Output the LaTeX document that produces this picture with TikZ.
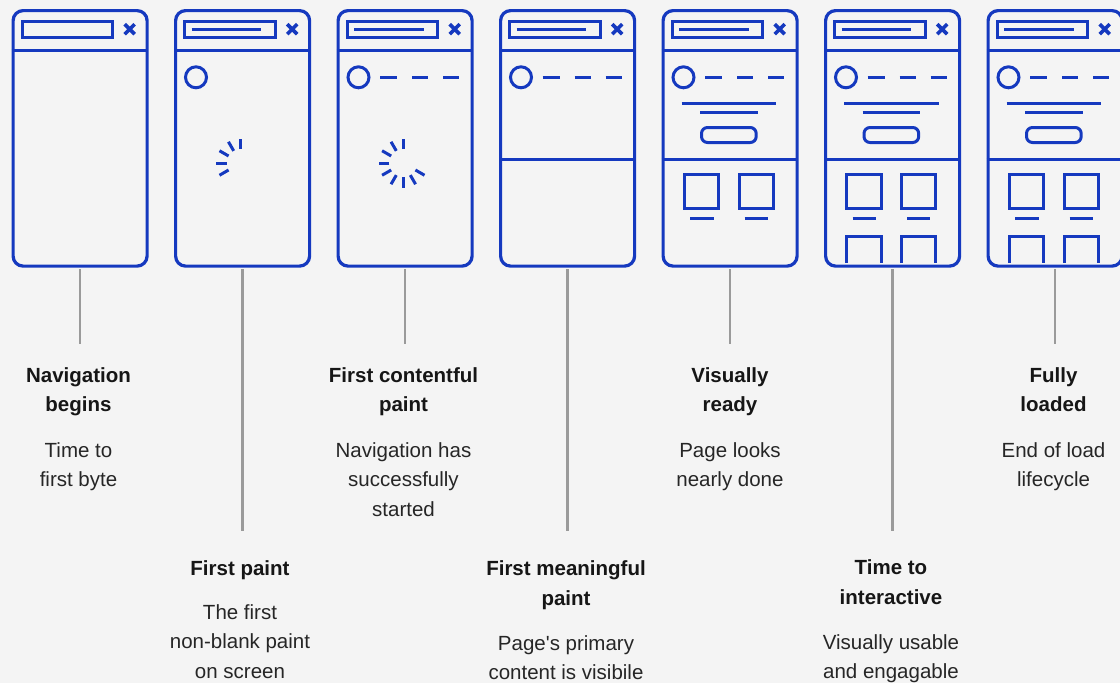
\documentclass[tikz,border=0pt]{standalone}
\usepackage{fontspec}
\setmainfont{Liberation Sans}
\definecolor{bg}{HTML}{F4F4F4}
\definecolor{blu}{HTML}{1539BF}
\definecolor{gry}{HTML}{9A9A9A}
\definecolor{ink}{HTML}{161616}
\definecolor{inkd}{HTML}{262626}
\begin{document}
\begin{tikzpicture}[x=1pt,y=-1pt,
  win/.style={draw=blu, line width=3.2pt, rounded corners=10pt, minimum width=134pt, minimum height=255.5pt, inner sep=0pt, anchor=north west},
  bl/.style={draw=blu, line width=3pt},
  xm/.style={draw=blu, line width=3.6pt},
  conn/.style={draw=gry, line width=2.4pt, shorten <=1.6pt},
  ttl/.style={font=\fontsize{20.5}{29.5}\selectfont\bfseries, text=ink, align=center, anchor=north, inner sep=0pt},
  dsc/.style={font=\fontsize{20.5}{29.5}\selectfont, text=inkd, align=center, anchor=north, inner sep=0pt}]
\useasboundingbox (0,0) rectangle (1120,683);
\fill[bg] (0,0) rectangle (1120,683);
\clip (0,0) rectangle (1120,683);

% windows
\foreach \i/\L in {1/11.5, 2/174, 3/336.5, 4/499, 5/661.5, 6/824, 7/986.5}
  \node[win] (w\i) at (\L,9) {};

% headers (all windows)
\foreach \L in {11.5, 174, 336.5, 499, 661.5, 824, 986.5} {
  \begin{scope}[shift={(\L,0)}]
    \draw[bl] (0,50) -- (134,50);
    \draw[bl] (10.7,21.5) rectangle (101,37.5);
    \draw[xm] (113.2,24.2) -- (123.2,34.2) (113.2,34.2) -- (123.2,24.2);
  \end{scope}
}
% address line + circle (windows 2-7)
\foreach \L in {174, 336.5, 499, 661.5, 824, 986.5} {
  \begin{scope}[shift={(\L,0)}]
    \draw[bl] (17.5,29.3) -- (87,29.3);
    \draw[bl] (22,77.3) circle (10.5pt);
  \end{scope}
}
% dashes (windows 3-7)
\foreach \L in {336.5, 499, 661.5, 824, 986.5} {
  \begin{scope}[shift={(\L,0)}]
    \draw[bl] (43.5,77.3) -- (60.5,77.3) (75.5,77.3) -- (91.5,77.3) (106.5,77.3) -- (122.5,77.3);
  \end{scope}
}
% spinners
\begin{scope}[shift={(174,0)}]
  \foreach \t in {90,120,150,180,210}
    \draw[bl] ({66.7+14*cos(\t)},{163-14*sin(\t)}) -- ({66.7+24.5*cos(\t)},{163-24.5*sin(\t)});
\end{scope}
\begin{scope}[shift={(336.5,0)}]
  \foreach \t in {90,120,150,180,210,240,270,300,330}
    \draw[bl] ({66.8+14*cos(\t)},{163-14*sin(\t)}) -- ({66.8+24.5*cos(\t)},{163-24.5*sin(\t)});
\end{scope}
% body divider (windows 4-7)
\foreach \L in {499, 661.5, 824, 986.5} {
  \begin{scope}[shift={(\L,0)}]
    \draw[bl] (0,159) -- (134,159);
  \end{scope}
}
% content (windows 5-7)
\foreach \L in {661.5, 824, 986.5} {
  \begin{scope}[shift={(\L,0)}]
    \draw[bl] (20,103.3) -- (114.5,103.3);
    \draw[bl] (38.5,112.3) -- (96,112.3);
    \draw[bl, rounded corners=6pt] (40,127.5) rectangle (94.7,142.5);
    \draw[bl] (22.5,174) rectangle (57,208);
    \draw[bl] (77.5,174) rectangle (111.5,208);
    \draw[bl] (28.5,218.3) -- (52,218.3) (83,218.3) -- (106,218.3);
  \end{scope}
}
% bottom squares (windows 6-7)
\foreach \L in {824, 986.5} {
  \begin{scope}[shift={(\L,0)}]
    \draw[bl] (22.5,263) -- (22.5,236.5) -- (57,236.5) -- (57,263);
    \draw[bl] (77.5,263) -- (77.5,236.5) -- (111.5,236.5) -- (111.5,263);
  \end{scope}
}

% connectors
\draw[conn] (w1.south) -- ++(0,76) coordinate (e1);
\draw[conn] (w2.south) -- ++(0,263) coordinate (e2);
\draw[conn] (w3.south) -- ++(0,76) coordinate (e3);
\draw[conn] (w4.south) -- ++(0,263) coordinate (e4);
\draw[conn] (w5.south) -- ++(0,76) coordinate (e5);
\draw[conn] (w6.south) -- ++(0,263) coordinate (e6);
\draw[conn] (w7.south) -- ++(0,76) coordinate (e7);

% labels
\node[ttl] (t1) at (78.5,361.3) {\strut Navigation\\begins};
\node[dsc] (d1) at (78.5,436.6) {\strut Time to\\first byte};
\node[ttl] (t3) at (403.5,361.3) {\strut First contentful\\paint};
\node[dsc] (d3) at (403.5,436.6) {\strut Navigation has\\successfully\\started};
\node[ttl] (t5) at (730,361.3) {\strut Visually\\ready};
\node[dsc] (d5) at (730,436.6) {\strut Page looks\\nearly done};
\node[ttl] (t7) at (1053.5,361.3) {\strut Fully\\loaded};
\node[dsc] (d7) at (1053.5,436.6) {\strut End of load\\lifecycle};

\node[ttl] (t2) at (240,554.3) {\strut First paint};
\node[dsc] (d2) at (240,598.6) {\strut The first\\non-blank paint\\on screen};
\node[ttl] (t4) at (566,554.8) {\strut First meaningful\\paint};
\node[dsc] (d4) at (566,629.5) {\strut Page\textquotesingle s primary\\content is visibile};
\node[ttl] (t6) at (891,553.8) {\strut Time to\\interactive};
\node[dsc] (d6) at (891,628.6) {\strut Visually usable\\and engagable};
\end{tikzpicture}
\end{document}
